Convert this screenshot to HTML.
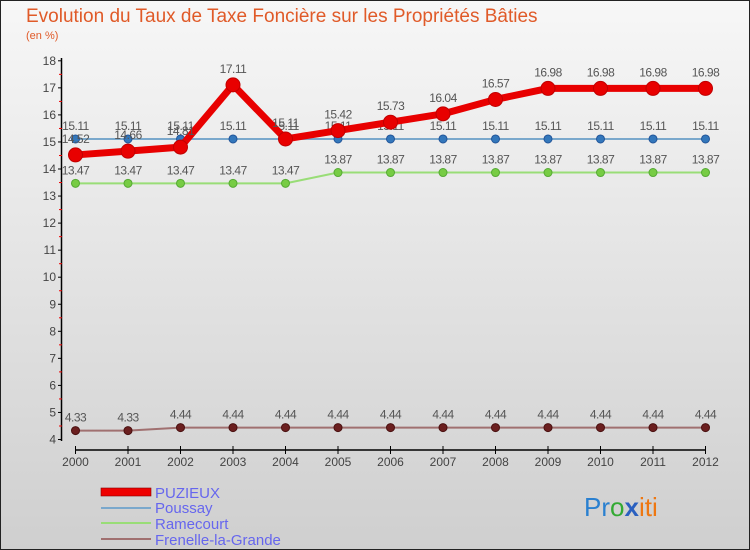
<!DOCTYPE html>
<html><head><meta charset="utf-8"><style>
body{margin:0;width:750px;height:550px;overflow:hidden}
svg{display:block;font-family:"Liberation Sans","DejaVu Sans",sans-serif}
</style></head><body>
<svg id="c" width="750" height="550">
<defs><linearGradient id="bg" x1="0" y1="0" x2="0" y2="1"><stop offset="0" stop-color="#f7f7f7"/><stop offset="1" stop-color="#cfcfcf"/></linearGradient></defs>
<rect x="0.5" y="0.5" width="749" height="549" fill="url(#bg)" stroke="#222"/>
<text x="26" y="22" font-size="19" fill="#e05a28">Evolution du Taux de Taxe Foncière sur les Propriétés Bâties</text>
<text x="26" y="39" font-size="11" fill="#e05a28">(en %)</text>
<g id="axes"></g><g id="series"></g>
<g>
<rect x="101" y="488" width="50" height="8" fill="#e00" stroke="#800" stroke-width="0.6"/>
<text x="155" y="498" font-size="15" fill="#6666ee">PUZIEUX</text>
<line x1="101" y1="508" x2="151" y2="508" stroke="#7aa8cc" stroke-width="2"/>
<text x="155" y="513" font-size="15" fill="#6666ee">Poussay</text>
<line x1="101" y1="523" x2="151" y2="523" stroke="#99dd77" stroke-width="2"/>
<text x="155" y="529" font-size="15" fill="#6666ee">Ramecourt</text>
<line x1="101" y1="539" x2="151" y2="539" stroke="#a07070" stroke-width="2"/>
<text x="155" y="545" font-size="15" fill="#6666ee">Frenelle-la-Grande</text>
</g>
<text x="584" y="516" font-size="26"><tspan fill="#2a80d0">Pr</tspan><tspan fill="#33aa33">o</tspan><tspan fill="#2a60c0" font-weight="bold">x</tspan><tspan fill="#ee7711">iti</tspan></text>
</svg>
<script>
const years=[2000,2001,2002,2003,2004,2005,2006,2007,2008,2009,2010,2011,2012];
const puzieux=[14.52,14.66,14.81,17.11,15.11,15.42,15.73,16.04,16.57,16.98,16.98,16.98,16.98];
const poussay=[15.11,15.11,15.11,15.11,15.11,15.11,15.11,15.11,15.11,15.11,15.11,15.11,15.11];
const ramecourt=[13.47,13.47,13.47,13.47,13.47,13.87,13.87,13.87,13.87,13.87,13.87,13.87,13.87];
const frenelle=[4.33,4.33,4.44,4.44,4.44,4.44,4.44,4.44,4.44,4.44,4.44,4.44,4.44];
const yTicks=[4,5,6,7,8,9,10,11,12,13,14,15,16,17,18];
const NS="http://www.w3.org/2000/svg";
const xs=i=>75.5+i*(705.5-75.5)/(years.length-1);
const ys=v=>439.5-(v-4)*27.05;
function mk(t,a,p){const e=document.createElementNS(NS,t);for(const k in a)e.setAttribute(k,a[k]);p.appendChild(e);return e;}
const ax=document.getElementById('axes');
let l=mk('line',{x1:61.5,y1:58,x2:61.5,y2:441,stroke:'#000','stroke-width':1.5},ax);


l=mk('line',{x1:75,y1:450,x2:706,y2:450,stroke:'#000','stroke-width':1.5},ax);


yTicks.forEach(v=>{const y=ys(v);
mk('line',{x1:58,y1:y,x2:62,y2:y,stroke:'#000'},ax);
if(v<18)mk('line',{x1:59,y1:y-13.5,x2:62,y2:y-13.5,stroke:'#e00'},ax);
const t=mk('text',{x:56,y:y+4,'font-size':12,fill:'#444','text-anchor':'end'},ax);t.textContent=v;

});
years.forEach((yr,i)=>{const x=xs(i);mk('line',{x1:x,y1:446,x2:x,y2:454,stroke:'#000'},ax);
const t=mk('text',{x:x,y:466,'font-size':12,fill:'#444','text-anchor':'middle'},ax);t.textContent=yr;

});
const sg=document.getElementById('series');
function series(name,data,col,w,r,dot,dotStroke,lblOff){
const g=mk('g',{},sg);


mk('polyline',{points:data.map((v,i)=>xs(i)+','+ys(v)).join(' '),fill:'none',stroke:col,'stroke-width':w,'stroke-linejoin':'round'},g);
data.forEach((v,i)=>{const c=mk('circle',{cx:xs(i),cy:ys(v),r:r,fill:dot,stroke:dotStroke,'stroke-width':1},g);


const t=mk('text',{x:xs(i),y:ys(v)-lblOff,'font-size':12,fill:'#555','text-anchor':'middle','letter-spacing':'-0.5'},g);t.textContent=v;

});}
series('frenelle',frenelle,'#a07070',2,4,'#6b1f1f','#4a1010',9);
series('ramecourt',ramecourt,'#99dd77',2,4,'#77cc44','#55aa33',9);
series('poussay',poussay,'#7aa8cc',2,4,'#3377bb','#225599',9);
series('puzieux',puzieux,'#e80000',7,7,'#e80000','#c00000',12);
</script>
</body></html>
